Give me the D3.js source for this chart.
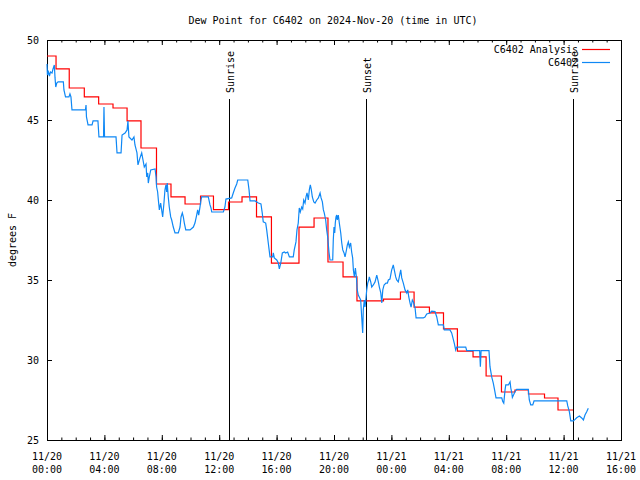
<!DOCTYPE html>
<html><head><meta charset="utf-8">
<script src="https://cdn.jsdelivr.net/npm/d3@7"></script>
<style>
body{margin:0;background:#fff;}
svg{display:block;font-family:"DejaVu Sans Mono",monospace;font-size:10px;}
</style></head><body>
<svg id="chart" width="640" height="480"></svg>
<script>
const title = "Dew Point for C6402 on 2024-Nov-20 (time in UTC)";
const yLabel = "degrees F";
const yTicks = [25, 30, 35, 40, 45, 50];
const xTickHours = [0, 4, 8, 12, 16, 20, 24, 28, 32, 36, 40];
const xTickDates = ["11/20","11/20","11/20","11/20","11/20","11/20","11/21","11/21","11/21","11/21","11/21"];
const xTickTimes = ["00:00","04:00","08:00","12:00","16:00","20:00","00:00","04:00","08:00","12:00","16:00"];
const xMinorHours = d3.range(0, 41, 1);
const sunNames = ["Sunrise", "Sunset", "Sunrise"];
const sunHours = [12.66, 22.23, 36.67];
const seriesNames = ["C6402 Analysis", "C6402"];
const seriesColors = ["#ff0000", "#0f88f5"];

// Analysis (step series): hours since 11/20 00:00 UTC, degrees F
const analysisHours = [0, 0.63, 1.55, 2.6, 3.6, 4.6, 5.58, 6.55, 7.63, 8.64, 9.62, 10.7, 11.6, 12.65, 13.59, 14.6, 15.64, 17.56, 18.61, 19.58, 20.63, 21.6, 23.45, 24.63, 25.58, 26.65, 27.63, 28.6, 29.69, 30.6, 31.67, 32.61, 33.55, 34.67, 35.61, 36.66];
const analysisValues = [49.0, 48.19, 47.0, 46.44, 46.0, 45.75, 44.94, 43.25, 41.0, 40.19, 39.75, 40.25, 39.4, 39.875, 40.19, 38.94, 36.06, 38.31, 38.875, 36.125, 35.19, 33.69, 33.81, 34.25, 33.31, 32.94, 31.94, 30.56, 30.19, 29.0, 28.0, 28.125, 27.875, 27.625, 26.875, 26.875];

// Observations
const obsHours = [0,0.03,0.10,0.17,0.24,0.35,0.42,0.51,0.56,0.61,0.68,0.77,1.14,1.18,1.29,1.53,1.60,1.67,1.74,2.68,2.72,2.75,2.86,3.14,3.21,3.55,3.62,3.94,3.97,4.01,4.81,4.88,5.16,5.23,5.44,5.58,5.64,5.71,5.92,6.06,6.13,6.27,6.34,6.48,6.60,6.69,6.78,6.90,6.95,7.02,7.06,7.13,7.23,7.53,7.60,7.64,7.71,7.76,7.83,7.92,7.99,8.06,8.15,8.22,8.29,8.34,8.38,8.45,8.52,8.62,8.69,8.80,8.92,9.15,9.27,9.34,9.43,9.50,9.57,9.67,9.97,10.20,10.31,10.43,10.50,10.57,10.66,10.73,10.78,11.24,11.36,11.43,11.48,12.29,12.40,12.47,12.87,12.98,13.10,13.22,13.29,13.99,14.08,14.15,14.50,14.73,14.91,15.00,15.07,15.24,15.31,15.42,15.54,15.73,15.77,15.84,16.01,16.12,16.19,16.29,16.40,16.54,16.63,16.77,16.89,17.16,17.23,17.35,17.42,17.51,17.58,17.65,17.75,17.82,17.89,17.98,18.05,18.12,18.21,18.28,18.35,18.42,18.49,18.59,18.68,18.80,18.91,19.03,19.10,19.19,19.26,19.32,19.42,19.49,19.56,19.65,19.72,19.91,19.95,20.00,20.05,20.09,20.14,20.19,20.23,20.30,20.37,20.47,20.54,20.61,20.70,20.77,20.84,20.93,21.00,21.07,21.16,21.23,21.30,21.35,21.42,21.49,21.56,21.62,21.69,21.76,21.86,21.93,22.00,22.04,22.11,22.16,22.23,22.28,22.35,22.42,22.46,22.56,22.63,22.74,22.86,22.98,23.09,23.16,23.26,23.33,23.40,23.49,23.62,23.72,23.79,23.90,24.02,24.09,24.13,24.20,24.30,24.37,24.48,24.55,24.65,24.72,24.83,24.95,25.07,25.14,25.21,25.30,25.37,25.46,25.53,25.65,25.72,26.22,26.34,26.46,26.69,26.81,27.04,27.16,27.27,27.62,27.69,28.08,28.20,28.38,28.48,28.55,29.18,29.25,30.15,30.20,30.25,30.80,30.87,30.99,31.10,31.19,31.29,31.69,31.76,31.83,31.92,31.97,32.15,32.27,32.32,32.39,32.43,32.51,32.61,32.73,33.54,33.61,33.71,33.85,33.94,36.22,36.29,36.40,36.50,36.68,36.80,36.91,37.10,37.26,37.38,37.49,37.61,37.72];
const obsValues = [48.5,47.81,48.0,47.75,48.0,47.94,48.19,48.44,47.63,47.06,47.31,47.38,47.38,46.88,46.44,46.44,46.63,46.44,45.63,45.63,45.94,45.19,44.69,44.69,44.94,44.94,43.94,43.94,45.81,43.94,43.94,42.94,42.94,44.06,44.19,44.38,44.94,43.94,43.75,43.94,43.44,42.94,42.19,42.63,42.94,42.5,42.06,42.25,41.44,41.69,41.06,41.44,41.88,41.94,41.44,40.81,40.5,40.0,39.38,39.81,39.38,38.94,39.81,40.63,40.94,40.5,41.06,40.19,39.56,38.94,38.75,38.31,37.94,37.94,38.31,38.94,39.19,38.94,38.56,38.13,38.13,38.31,38.56,39.06,39.38,39.06,39.56,40.0,40.19,40.19,39.69,39.5,39.25,39.25,39.56,40.06,40.13,40.44,40.75,41.0,41.25,41.25,40.63,39.94,39.94,39.81,39.75,39.19,38.63,38.56,38.13,37.31,36.44,36.44,36.69,36.38,36.25,36.06,35.69,36.06,36.69,36.75,36.69,36.75,36.44,36.44,36.88,37.38,38.13,38.56,39.5,39.25,39.56,39.44,40.0,39.81,40.19,40.44,40.0,40.63,40.94,40.63,40.19,39.88,39.81,40.0,40.13,40.44,40.13,39.88,39.38,39.19,38.75,38.13,37.69,36.75,36.25,36.25,37.5,38.31,37.94,38.56,38.94,39.06,38.75,39.06,38.56,37.94,37.31,36.88,36.69,36.44,36.75,37.19,37.38,37.06,37.31,36.75,36.38,35.63,35.19,35.75,35.19,34.38,34.06,33.94,33.75,32.69,31.69,33.13,33.75,33.31,33.88,34.38,34.81,35.0,35.19,34.88,34.56,34.69,34.88,35.31,34.88,34.56,34.19,33.56,34.38,34.69,34.81,34.81,35.0,35.06,35.63,35.81,35.94,35.63,35.19,35.0,34.88,35.19,35.63,35.13,34.81,34.38,34.19,34.38,33.94,33.56,33.31,33.75,33.63,33.25,32.63,32.63,32.69,32.88,32.94,33.06,33.03,32.69,32.19,32.19,31.88,31.88,31.69,31.06,30.63,30.81,30.81,30.58,30.58,29.58,30.58,30.58,29.58,28.94,28.56,28.13,27.63,27.63,27.4,27.3,28.13,28.44,28.44,28.63,28.25,27.94,27.66,27.81,28.02,28.17,28.17,27.5,27.19,27.19,27.44,27.44,27.13,26.77,26.19,26.19,26.29,26.39,26.5,26.38,26.25,26.56,26.77,26.98];

const svg = d3.select("#chart");
const L = 47, R = 621, T = 40, B = 440;
const x = d3.scaleLinear().domain([0, 40]).range([L, R]);
const y = d3.scaleLinear().domain([25, 50]).range([B, T]);

// title
svg.append("text").attr("x", 333).attr("y", 24).attr("text-anchor", "middle").text(title);
// y label
svg.append("text").attr("transform", `translate(16,240) rotate(-90)`).attr("text-anchor", "middle").text(yLabel);

function clean(g){ g.select(".domain").remove(); g.selectAll("line").attr("stroke","#000"); }

// bottom minor + major ticks
svg.append("g").attr("transform", `translate(0,${B})`)
  .call(d3.axisBottom(x).tickValues(xMinorHours).tickSize(-2.5).tickFormat(""))
  .call(clean);
svg.append("g").attr("transform", `translate(0,${T})`)
  .call(d3.axisTop(x).tickValues(xMinorHours).tickSize(-2.5).tickFormat(""))
  .call(clean);
const gxb = svg.append("g").attr("transform", `translate(0,${B})`)
  .call(d3.axisBottom(x).tickValues(xTickHours).tickSize(-5).tickFormat(""))
  .call(clean);
svg.append("g").attr("transform", `translate(0,${T})`)
  .call(d3.axisTop(x).tickValues(xTickHours).tickSize(-5).tickFormat(""))
  .call(clean);
// x labels
const xl = svg.append("g").attr("text-anchor", "middle").attr("fill", "#000");
xl.selectAll("text.d").data(xTickHours).join("text").attr("class","d")
  .attr("x", d => x(d)).attr("y", 460).text((d,i) => xTickDates[i]);
xl.selectAll("text.t").data(xTickHours).join("text").attr("class","t")
  .attr("x", d => x(d)).attr("y", 473).text((d,i) => xTickTimes[i]);

// y axes
svg.append("g").attr("transform", `translate(${L},0)`)
  .call(d3.axisLeft(y).tickValues(yTicks).tickSize(-5).tickPadding(8).tickFormat(d3.format("d")))
  .call(clean)
  .call(g => g.selectAll("text").attr("font-family", "DejaVu Sans Mono").attr("font-size", 10).attr("fill","#000"));
svg.append("g").attr("transform", `translate(${R},0)`)
  .call(d3.axisRight(y).tickValues(yTicks).tickSize(-5).tickFormat(""))
  .call(clean);

// border
svg.append("rect").attr("x", L + 0.5).attr("y", T + 0.5).attr("width", R - L).attr("height", B - T)
  .attr("fill", "none").attr("stroke", "#000").attr("stroke-width", 1);

// sun lines
const sun = svg.append("g");
sun.selectAll("line").data(sunHours).join("line")
  .attr("x1", d => Math.round(x(d)) + 0.5).attr("x2", d => Math.round(x(d)) + 0.5)
  .attr("y1", 99).attr("y2", B).attr("stroke", "#000").attr("stroke-width", 1);
sun.selectAll("text").data(sunHours).join("text")
  .attr("transform", d => `translate(${Math.round(x(d)) + 5},93) rotate(-90)`)
  .attr("text-anchor", "start").text((d,i) => sunNames[i]);

// series
const analysisData = analysisHours.map((h,i) => [h, analysisValues[i]]);
const obsData = obsHours.map((h,i) => [h, obsValues[i]]);
svg.append("path").datum(analysisData)
  .attr("fill", "none").attr("stroke", seriesColors[0]).attr("stroke-width", 1.2)
  .attr("d", d3.line().x(d => x(d[0])).y(d => y(d[1])).curve(d3.curveStepAfter));
svg.append("path").datum(obsData)
  .attr("fill", "none").attr("stroke", seriesColors[1]).attr("stroke-width", 1.2)
  .attr("d", d3.line().x(d => x(d[0])).y(d => y(d[1])));

// legend
const lg = svg.append("g");
seriesNames.forEach((n, i) => {
  const yy = 49 + i * 13;
  lg.append("text").attr("x", 578).attr("y", yy + 3.5).attr("text-anchor", "end").text(n);
  lg.append("line").attr("x1", 582).attr("x2", 610).attr("y1", yy + 0.5).attr("y2", yy + 0.5)
    .attr("stroke", seriesColors[i]).attr("stroke-width", 1.2);
});
</script>
</body></html>
